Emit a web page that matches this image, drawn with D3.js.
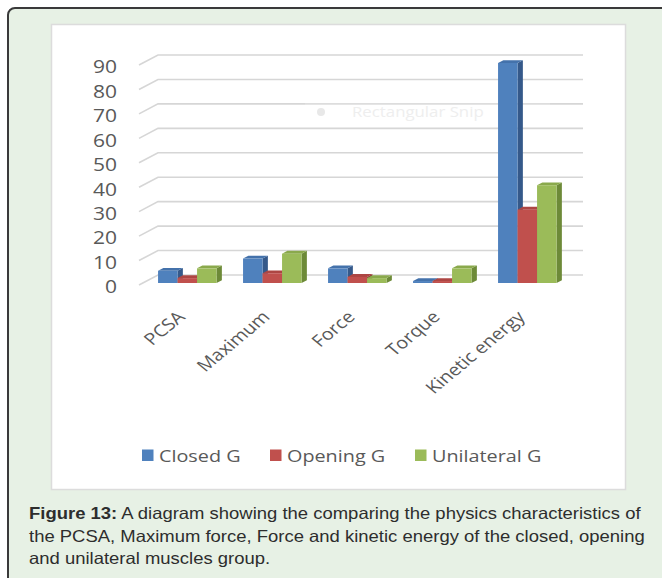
<!DOCTYPE html>
<html>
<head>
<meta charset="utf-8">
<script src="https://cdn.jsdelivr.net/npm/d3@7/dist/d3.min.js"></script>
<style>
  html, body { margin: 0; padding: 0; background: #ffffff; }
  svg { display: block; }
</style>
</head>
<body>
<svg id="chart" width="662" height="578"></svg>
<script>
// ---- data ----
const categories = ["PCSA", "Maximum", "Force", "Torque", "Kinetic energy"];
const seriesNames = ["Closed G", "Opening G", "Unilateral G"];
const closedG = [5, 10, 6, 0.8, 90];
const openingG = [2, 4, 2.5, 0.8, 30];
const unilateralG = [6, 12, 2, 6, 40];
const yTicks = [0, 10, 20, 30, 40, 50, 60, 70, 80, 90];
const captionLines = [
  ["Figure 13:", " A diagram showing the comparing the physics characteristics of"],
  ["", "the PCSA, Maximum force, Force and kinetic energy of the closed, opening"],
  ["", "and unilateral muscles group."]
];

const seriesValues = [closedG, openingG, unilateralG];
const colors = {
  front: ["#4f81bd", "#c0504d", "#9bbb59"],
  top:   ["#4472ab", "#ad4643", "#8aa94c"],
  side:  ["#35598a", "#8b3735", "#6d8a38"]
};

const svg = d3.select("#chart");
const SX = 1.2;                    // horizontal text stretch
const chartFont = "'Open Sans', 'Noto Sans', sans-serif";
const labelColor = "#595959";

// ---- page frame ----
svg.append("rect")
  .attr("x", 8).attr("y", 8).attr("width", 720).attr("height", 640)
  .attr("rx", 7)
  .attr("fill", "#e7f1e5").attr("stroke", "#3a3a3a").attr("stroke-width", 2);

svg.append("rect")
  .attr("x", 51.5).attr("y", 24.5).attr("width", 574).attr("height", 465)
  .attr("fill", "#ffffff").attr("stroke", "#dcdcdc").attr("stroke-width", 1.5);

// ---- 3D projection helpers ----
const floorY = 285;                 // front edge of the floor at value 0
const depthVec = { dx: 19, dy: -10 }; // front plane -> back wall
const barD0 = 0.2, barD1 = 0.48;    // bar slab inside the floor depth

const x0 = d3.scaleBand().domain(categories).range([139, 564]);
const groupW = 58.5;
const x1 = d3.scaleBand().domain(seriesNames).range([0, groupW]);
const rise = d3.scaleLinear().domain([0, 90]).range([0, 220]);
const yFront = d3.scaleLinear().domain([0, 90]).range([floorY, floorY - 220]);

function proj(x, v, d) {
  return [x + d * depthVec.dx, floorY + d * depthVec.dy - rise(v)];
}
const pts = arr => arr.map(p => p.join(",")).join(" ");

// ---- gridlines (side wall diagonal + back wall) ----
const [xL, xR] = x0.range();
const grid = svg.append("g").attr("fill", "none")
  .attr("stroke", "#d6d6d6").attr("stroke-width", 1.6);
grid.selectAll("polyline").data(yTicks).join("polyline")
  .attr("points", t => pts([proj(xL, t, 0), proj(xL, t, 1), proj(xR, t, 1)]));

// ---- y axis labels ----
const yAxis = svg.append("g")
  .attr("transform", "translate(117,1.5)")
  .call(d3.axisLeft(yFront).tickValues(yTicks).tickSize(0).tickPadding(0));
yAxis.select(".domain").remove();
yAxis.selectAll("text")
  .attr("x", 0).attr("dy", "0.36em")
  .attr("transform", `scale(${SX},1)`)
  .attr("fill", labelColor)
  .style("font-family", chartFont).style("font-size", "17.5px");

// ---- faint snip overlay ----
const snip = svg.append("g");
snip.append("rect")
  .attr("x", 305).attr("y", 97).attr("width", 245).attr("height", 29)
  .attr("fill", "#ffffff").attr("opacity", 0.18);
snip.append("circle").attr("cx", 321).attr("cy", 112).attr("r", 4)
  .attr("fill", "#e8e8e8");
snip.append("text")
  .attr("transform", `translate(352,117) scale(${SX},1)`)
  .attr("fill", "#eeeeee")
  .style("font-family", chartFont).style("font-size", "14px")
  .text("Rectangular Snip");

// ---- bars ----
const bars = [];
categories.forEach((c, i) => {
  seriesNames.forEach((s, k) => {
    bars.push({ cat: c, series: s, k, v: seriesValues[k][i] });
  });
});
const groupOffset = (x0.bandwidth() - groupW) / 2 + 2;

const barG = svg.append("g").selectAll("g").data(bars).join("g");
barG.each(function (b) {
  const g = d3.select(this);
  const xl = x0(b.cat) + groupOffset + x1(b.series);
  const xr = xl + x1.bandwidth();
  // side face
  g.append("polygon")
    .attr("points", pts([proj(xr, 0, barD0), proj(xr, b.v, barD0), proj(xr, b.v, barD1), proj(xr, 0, barD1)]))
    .attr("fill", colors.side[b.k]);
  // top face
  g.append("polygon")
    .attr("points", pts([proj(xl, b.v, barD0), proj(xr, b.v, barD0), proj(xr, b.v, barD1), proj(xl, b.v, barD1)]))
    .attr("fill", colors.top[b.k]);
  // front face
  const [fx, fy] = proj(xl, b.v, barD0);
  const [, fy0] = proj(xl, 0, barD0);
  g.append("rect")
    .attr("x", fx).attr("y", fy)
    .attr("width", x1.bandwidth()).attr("height", Math.max(0, fy0 - fy))
    .attr("fill", colors.front[b.k]);
});

// ---- category labels ----
svg.append("g").selectAll("text").data(categories).join("text")
  .attr("transform", c => `translate(${x0(c) + 47},318) scale(${SX},1) rotate(-45)`)
  .attr("text-anchor", "end")
  .attr("fill", labelColor)
  .style("font-family", chartFont).style("font-size", "16.5px")
  .text(c => c);

// ---- legend ----
const legendX = [142, 270, 415];
const legend = svg.append("g").selectAll("g").data(seriesNames).join("g")
  .attr("transform", (s, k) => `translate(${legendX[k]},0)`);
legend.append("rect")
  .attr("x", 0).attr("y", 449.5).attr("width", 11.5).attr("height", 11.5)
  .attr("fill", (s, k) => colors.front[k]);
legend.append("text")
  .attr("transform", `translate(17,461.5) scale(${SX},1)`)
  .attr("fill", labelColor)
  .style("font-family", chartFont).style("font-size", "16.5px")
  .text(s => s);

// ---- caption ----
const capSX = 1.12;
const cap = svg.append("g").selectAll("text").data(captionLines).join("text")
  .attr("transform", (l, i) => `translate(29,${519 + i * 22.5}) scale(${capSX},1)`)
  .attr("fill", "#2d2d2d")
  .style("font-family", "'Liberation Sans', Arial, sans-serif").style("font-size", "16.5px");
cap.append("tspan").attr("font-weight", "bold").text(l => l[0]);
cap.append("tspan").text(l => l[1]);
</script>
</body>
</html>
